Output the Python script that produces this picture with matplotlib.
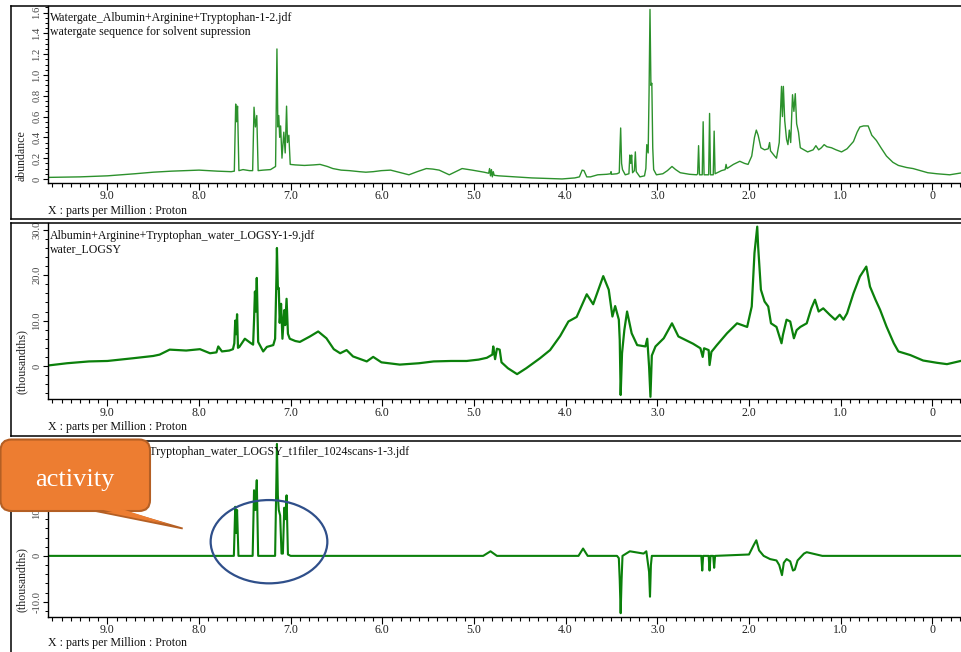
import matplotlib
matplotlib.use('Agg')
import matplotlib.pyplot as plt
import matplotlib.transforms as mtransforms
from matplotlib.patches import FancyBboxPatch, Polygon, Ellipse
from matplotlib.lines import Line2D
from matplotlib.ticker import MultipleLocator, FuncFormatter

# ---------------- data ----------------
# Panel 1: watergate spectrum (abundance)
ppm1 = [9.65, 9.3, 9.0, 8.7, 8.5, 8.3, 8.0, 7.8, 7.65, 7.615,
        7.60, 7.59, 7.58, 7.565, 7.52, 7.45, 7.415,
        7.40, 7.385, 7.37, 7.355, 7.30, 7.22, 7.165,
        7.15, 7.14, 7.13, 7.12, 7.11, 7.095, 7.075, 7.06, 7.045, 7.035, 7.02, 7.005,
        6.95, 6.85, 6.75, 6.68, 6.60, 6.54, 6.45, 6.36, 6.25, 6.18, 6.10, 6.01, 5.91,
        5.80, 5.71, 5.62, 5.52, 5.45, 5.38, 5.27, 5.20, 5.13, 5.02, 4.89,
        4.84, 4.83, 4.82, 4.81, 4.80, 4.79, 4.78, 4.73, 4.55, 4.37, 4.2, 4.04,
        3.90, 3.85, 3.82, 3.80, 3.77, 3.73, 3.65, 3.55, 3.51, 3.505, 3.50, 3.44,
        3.415, 3.41, 3.40, 3.39, 3.38, 3.35, 3.31, 3.30, 3.29, 3.28, 3.27, 3.25, 3.24, 3.23,
        3.19, 3.14, 3.125, 3.115, 3.10, 3.09, 3.08, 3.07, 3.06, 3.05, 3.04, 3.01,
        2.94, 2.89, 2.84, 2.80, 2.75, 2.65, 2.57, 2.56, 2.55, 2.54, 2.51, 2.50, 2.49,
        2.44, 2.43, 2.42, 2.39, 2.38, 2.37, 2.30, 2.26, 2.25, 2.24, 2.17, 2.10, 2.05,
        2.01, 1.97, 1.94, 1.92, 1.90, 1.87, 1.83, 1.79, 1.775, 1.765, 1.72, 1.70, 1.67,
        1.645, 1.635, 1.625, 1.61, 1.59, 1.575, 1.56, 1.545, 1.525, 1.51, 1.495, 1.48,
        1.46, 1.44, 1.40, 1.36, 1.30, 1.27, 1.24, 1.21, 1.18, 1.15, 1.10, 1.05, 0.99,
        0.93, 0.86, 0.82, 0.79, 0.75, 0.70, 0.66, 0.61, 0.56, 0.50, 0.43, 0.37, 0.28,
        0.21, 0.13, 0.05, -0.05, -0.19, -0.33]
abund1 = [0.015, 0.02, 0.03, 0.05, 0.065, 0.075, 0.085, 0.075, 0.07, 0.075,
          0.72, 0.55, 0.70, 0.08, 0.09, 0.08, 0.08,
          0.69, 0.50, 0.61, 0.08, 0.085, 0.09, 0.12,
          1.25, 0.50, 0.61, 0.40, 0.51, 0.20, 0.45, 0.25, 0.70, 0.35, 0.42, 0.14,
          0.135, 0.13, 0.135, 0.14, 0.12, 0.10, 0.085, 0.08, 0.07, 0.065, 0.07, 0.08, 0.085,
          0.06, 0.04, 0.07, 0.10, 0.095, 0.085, 0.04, 0.07, 0.10, 0.085, 0.065,
          0.055, 0.10, 0.03, 0.09, 0.02, 0.07, 0.035, 0.03, 0.02, 0.01, 0.005, 0.0,
          0.01, 0.02, 0.085, 0.08, 0.02, 0.02, 0.04, 0.045, 0.05, 0.07, 0.045, 0.05,
          0.06, 0.23, 0.49, 0.15, 0.09, 0.04, 0.05, 0.23, 0.15, 0.23, 0.06, 0.08, 0.26, 0.07,
          0.02, 0.03, 0.10, 0.33, 0.25, 0.84, 1.63, 0.90, 0.92, 0.30, 0.09, 0.04,
          0.05, 0.08, 0.12, 0.09, 0.06, 0.045, 0.04, 0.05, 0.32, 0.04, 0.04, 0.55, 0.04,
          0.04, 0.63, 0.04, 0.04, 0.46, 0.05, 0.08, 0.09, 0.14, 0.10, 0.14, 0.17, 0.15,
          0.14, 0.22, 0.40, 0.47, 0.42, 0.30, 0.28, 0.29, 0.35, 0.27, 0.22, 0.20, 0.35,
          0.89, 0.60, 0.89, 0.56, 0.38, 0.33, 0.47, 0.35, 0.81, 0.65, 0.82, 0.53,
          0.45, 0.30, 0.28, 0.26, 0.28, 0.32, 0.28, 0.30, 0.33, 0.31, 0.30, 0.28, 0.26,
          0.29, 0.36, 0.45, 0.50, 0.51, 0.51, 0.42, 0.37, 0.30, 0.22, 0.16, 0.13, 0.11,
          0.10, 0.08, 0.06, 0.05, 0.04, 0.06]

# Panel 2: water LOGSY (thousandths)
ppm2 = [9.65, 9.44, 9.2, 9.0, 8.72, 8.5, 8.43, 8.32, 8.14, 7.99, 7.88, 7.81, 7.79, 7.75,
        7.67, 7.63, 7.615, 7.605, 7.595, 7.585, 7.575, 7.56, 7.50, 7.44, 7.41, 7.40, 7.39,
        7.38, 7.37, 7.355, 7.30, 7.26, 7.19, 7.17, 7.155, 7.15, 7.14, 7.13, 7.12, 7.105,
        7.09, 7.07, 7.06, 7.045, 7.03, 7.01, 6.95, 6.90, 6.79, 6.70, 6.61, 6.53, 6.46,
        6.39, 6.32, 6.17, 6.10, 6.01, 5.81, 5.60, 5.44, 5.25, 5.08, 4.95, 4.86, 4.80,
        4.79, 4.77, 4.75, 4.72, 4.70, 4.63, 4.53, 4.43, 4.28, 4.17, 4.06, 3.97, 3.88,
        3.77, 3.70, 3.59, 3.53, 3.49, 3.46, 3.42, 3.41, 3.40, 3.385, 3.36, 3.33, 3.28,
        3.22, 3.13, 3.11, 3.09, 3.075, 3.06, 3.02, 2.93, 2.84, 2.77, 2.61, 2.53, 2.505,
        2.49, 2.44, 2.43, 2.41, 2.35, 2.24, 2.13, 2.02, 1.97, 1.94, 1.91, 1.90, 1.87,
        1.83, 1.79, 1.76, 1.70, 1.645, 1.63, 1.59, 1.55, 1.51, 1.48, 1.44, 1.37, 1.32,
        1.28, 1.24, 1.19, 1.12, 1.06, 1.01, 0.97, 0.93, 0.86, 0.79, 0.72, 0.68, 0.62,
        0.57, 0.50, 0.42, 0.37, 0.24, 0.10, -0.05, -0.16, -0.33]
logsy2 = [0.1, 0.6, 1.0, 1.1, 1.7, 2.2, 2.5, 3.6, 3.4, 3.7, 2.8, 3.0, 4.3, 3.2,
          3.4, 3.7, 5.0, 10.0, 7.0, 11.4, 4.0, 4.2, 6.0, 5.1, 4.7, 10.0, 16.4,
          12.0, 19.4, 5.3, 3.2, 4.2, 4.6, 6.0, 20.0, 26.0, 17.0, 17.2, 9.5, 13.7,
          6.0, 12.3, 9.0, 14.8, 7.1, 6.0, 5.5, 5.3, 6.5, 7.6, 6.1, 3.7, 2.8,
          3.5, 2.1, 1.0, 2.0, 0.8, 0.3, 0.6, 1.0, 1.1, 1.1, 1.4, 1.8, 2.5,
          4.3, 1.5, 3.8, 3.6, 0.8, -0.5, -1.8, -0.5, 1.7, 3.5, 6.6, 9.8, 10.8,
          15.8, 13.6, 19.8, 16.8, 10.9, 13.2, 10.2, 5.7, -6.4, 2.8, 7.9, 12.0, 7.2,
          4.6, 4.3, 6.0, -0.1, -6.8, 2.3, 4.3, 6.1, 9.4, 6.5, 4.9, 3.9, 2.0,
          3.9, 3.5, 0.2, 3.1, 4.6, 7.2, 9.4, 8.6, 13.1, 24.9, 30.7, 26.3, 16.8,
          14.2, 13.1, 9.4, 8.6, 5.0, 6.8, 10.2, 9.8, 6.1, 7.9, 8.6, 9.4, 12.7,
          14.6, 12.0, 12.7, 11.3, 10.2, 11.3, 10.2, 11.6, 16.0, 19.7, 21.9, 17.5, 14.6,
          12.4, 8.7, 5.0, 3.2, 2.4, 1.2, 0.7, 0.4, 1.2]

# Panel 3: water LOGSY t1 filter (thousandths)
ppm3 = [9.65, 7.62, 7.605, 7.595, 7.585, 7.57, 7.415, 7.40, 7.385, 7.37, 7.355,
        7.17, 7.155, 7.15, 7.14, 7.13, 7.115, 7.10, 7.085, 7.07, 7.055, 7.045, 7.03,
        7.0, 4.9, 4.82, 4.75, 3.86, 3.81, 3.76, 3.44, 3.42, 3.41, 3.40, 3.39, 3.38,
        3.30, 3.24, 3.15, 3.12, 3.10, 3.09, 3.08, 3.07, 3.06, 2.52, 2.51, 2.50, 2.44,
        2.43, 2.42, 2.39, 2.38, 2.37, 2.00, 1.95, 1.92, 1.89, 1.84, 1.77, 1.70, 1.67,
        1.64, 1.62, 1.59, 1.55, 1.52, 1.50, 1.47, 1.40, 1.37, 1.2, -0.33]
logsy3 = [0.0, 0.0, 10.7, 5.0, 10.0, 0.0, 0.0, 14.3, 10.0, 16.5, 0.0,
          0.0, 18.0, 24.4, 13.2, 10.0, 8.8, 0.5, 0.5, 10.5, 8.0, 13.2, 0.3,
          0.0, 0.0, 1.0, 0.0, 0.0, 1.6, 0.0, 0.0, -0.5, -5.3, -12.5, -5.3, 0.0,
          1.0, 0.8, 0.5, 1.0, -2.0, -3.5, -8.9, -2.0, 0.0, 0.0, -3.2, 0.0, 0.0,
          -3.2, 0.0, 0.0, -2.6, 0.0, 0.3, 2.3, 3.4, 1.2, 0.0, -0.7, -1.0, -2.0,
          -4.2, -1.5, -0.7, -1.2, -3.2, -3.0, -1.0, 0.5, 0.8, 0.0, 0.0]

titles = [["Watergate_Albumin+Arginine+Tryptophan-1-2.jdf",
           "watergate sequence for solvent supression"],
          ["Albumin+Arginine+Tryptophan_water_LOGSY-1-9.jdf", "water_LOGSY"],
          ["Albumin+Arginine+Tryptophan_water_LOGSY_t1filer_1024scans-1-3.jdf"]]
ylabels = ["abundance", "(thousandths)", "(thousandths)"]
xlabel = "X : parts per Million : Proton"
callout_text = "activity"

# ---------------- figure ----------------
W, H = 962, 652
fig = plt.figure(figsize=(W / 100, H / 100), dpi=100)
fig.patch.set_facecolor('white')
PX = mtransforms.Affine2D().scale(1 / W, -1 / H).translate(0, 1) + fig.transFigure
SERIF = ['Liberation Serif', 'DejaVu Serif']
FS = 8.6

def add_axes_px(left, top, right, bottom):
    return fig.add_axes([left / W, 1 - bottom / H, (right - left) / W, (bottom - top) / H])

def xfmt(v, pos):
    return '0' if abs(v) < 1e-9 else f'{v:.1f}'

def yfmt_hidden_top(limit):
    # labels above `limit` sit under the callout box in the reference
    def f(v, pos):
        if v > limit:
            return ''
        return xfmt(v, pos)
    return f

panels = [
    dict(top=6.0, bottom=182.7, ylim=(-0.036, 1.663), major=0.2, minor=0.05,
         x=ppm1, y=abund1, color='#2c912c', lw=1.0, frame=(6.0, 219.3), yhide=None),
    dict(top=222.7, bottom=399.0, ylim=(-7.28, 31.57), major=10.0, minor=2.0,
         x=ppm2, y=logsy2, color='#0b800b', lw=1.6, frame=(222.7, 436.0), yhide=None),
    dict(top=440.5, bottom=616.7, ylim=(-13.26, 25.15), major=10.0, minor=2.0,
         x=ppm3, y=logsy3, color='#0b800b', lw=1.5, frame=(440.5, 700.0), yhide=15.0),
]

AX_LEFT, AX_RIGHT = 47.7, 962.0
FRAME_LEFT = 11.0

for i, p in enumerate(panels):
    ax = add_axes_px(AX_LEFT, p['top'], AX_RIGHT, p['bottom'])
    ax.plot(p['x'], p['y'], color=p['color'], lw=p['lw'], solid_joinstyle='round')
    ax.set_xlim(9.651, -0.324)
    ax.set_ylim(*p['ylim'])
    for s in ('top', 'right'):
        ax.spines[s].set_visible(False)
    for s in ('left', 'bottom'):
        ax.spines[s].set_linewidth(1.0)
        ax.spines[s].set_color('black')
    ax.xaxis.set_major_locator(MultipleLocator(1.0))
    ax.xaxis.set_minor_locator(MultipleLocator(0.1))
    ax.xaxis.set_major_formatter(FuncFormatter(xfmt))
    ax.yaxis.set_major_locator(MultipleLocator(p['major']))
    ax.yaxis.set_minor_locator(MultipleLocator(p['minor']))
    if p['yhide'] is None:
        ax.yaxis.set_major_formatter(FuncFormatter(xfmt))
    else:
        ax.yaxis.set_major_formatter(FuncFormatter(yfmt_hidden_top(p['yhide'])))
    ax.tick_params(axis='x', which='major', direction='out', length=5, width=0.8,
                   pad=0.5, labelsize=FS, labelcolor='#222222')
    ax.tick_params(axis='x', which='minor', direction='out', length=3, width=0.8)
    ax.tick_params(axis='y', which='major', direction='out', length=3.5, width=0.8,
                   pad=1.0, labelsize=7.6, labelcolor='#444444', labelrotation=90)
    ax.tick_params(axis='y', which='minor', direction='out', length=2, width=0.7)
    for lab in ax.get_xticklabels() + ax.get_yticklabels():
        lab.set_fontfamily(SERIF)
    for lab in ax.get_yticklabels():
        lab.set_va('center')
    ax.patch.set_alpha(0)

    # frame around the panel
    ft, fb = p['frame']
    fig.add_artist(Line2D([FRAME_LEFT, 970], [ft, ft], color='black', lw=1.1, transform=PX))
    fig.add_artist(Line2D([FRAME_LEFT, 970], [fb, fb], color='black', lw=1.1, transform=PX))
    fig.add_artist(Line2D([FRAME_LEFT, FRAME_LEFT], [ft, fb], color='black', lw=1.1, transform=PX))

    # titles
    ty = [[17.5, 32.0], [235.5, 249.5], [452.5]][i]
    tx = [50, 50, 53][i]
    for t, yy in zip(titles[i], ty):
        fig.text(tx / W, 1 - yy / H, t, fontsize=FS, family=SERIF, ha='left', va='center',
                 color='#111111', zorder=3)
    # x label
    xly = [210.5, 427.0, 643.0][i]
    fig.text(48 / W, 1 - xly / H, xlabel, fontsize=FS, family=SERIF, ha='left',
             va='center', color='#111111')
    # y label
    yly = [156.0, 362.0, 580.0][i]
    fig.text(21.5 / W, 1 - yly / H, ylabels[i], fontsize=FS, family=SERIF, rotation=90,
             ha='center', va='center', color='#222222')

# ---------------- annotations (drawn above everything) ----------------
ell = Ellipse((269.0, 541.7), 116.7, 83.3, fill=False, edgecolor='#2f4f8a', lw=1.6,
              transform=PX, zorder=8)
fig.add_artist(ell)

orange = '#ed7d31'
edge = '#b45f24'
tail = [(88, 509.5), (182.7, 528.5), (117, 509.5)]
fig.add_artist(Polygon(tail, closed=True, facecolor=orange, edgecolor=edge, lw=1.3,
                       transform=PX, joinstyle='miter', zorder=10))
box = FancyBboxPatch((0.5, 439.5), 149.5, 71.5, boxstyle='round,pad=0,rounding_size=11',
                     facecolor=orange, edgecolor=edge, lw=1.5, transform=PX, zorder=11)
fig.add_artist(box)
fig.add_artist(Polygon([(89.5, 507), (170, 524.5), (115.5, 507)], closed=True,
                       facecolor=orange, edgecolor='none', transform=PX, zorder=12))
fig.text(74.5 / W, 1 - 486 / H, callout_text, fontsize=19, family=SERIF, color='white',
         ha='center', va='baseline', zorder=13)

fig.savefig('out.png', dpi=100)
